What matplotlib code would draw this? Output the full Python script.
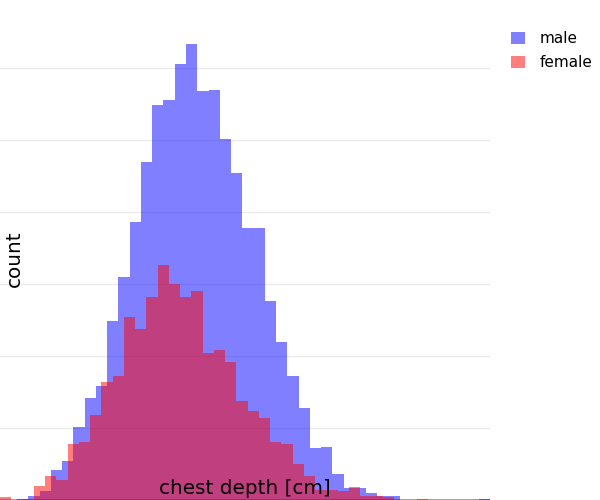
import numpy as np
import matplotlib
matplotlib.use("Agg")
import matplotlib.pyplot as plt

# histogram counts per bin (bin width 0.5 cm)
bin_width = 0.5
male_start = 17.26
female_start = 17.0
male_counts = [0, 1, 3, 6, 21, 27, 51, 71, 79, 124,
               155, 193, 235, 274, 278, 303, 317, 284, 285, 251,
               227, 189, 189, 138, 110, 86, 64, 36, 37, 18,
               8, 8, 5, 3, 3, 0, 0, 0, 0, 0,
               0, 0, 1]
female_counts = [2, 0, 1, 10, 17, 14, 39, 40, 59, 82,
                 86, 127, 119, 141, 163, 150, 141, 145, 102, 104,
                 96, 69, 62, 57, 40, 39, 25, 17, 7, 7,
                 6, 9, 3, 3, 2, 0, 0, 1]
grid_step = 50

male_x = male_start + bin_width * np.arange(len(male_counts))
female_x = female_start + bin_width * np.arange(len(female_counts))

fig = plt.figure(figsize=(6, 5), dpi=100)
ax = fig.add_axes([0, 0, 490 / 600, 1])

ax.bar(male_x, male_counts, width=bin_width, align="edge", color="blue",
       alpha=0.5, linewidth=0, label="male")
ax.bar(female_x, female_counts, width=bin_width, align="edge", color="red",
       alpha=0.5, linewidth=0, label="female")

ax.set_xlim(female_start, male_start + bin_width * len(male_counts))
ax.set_ylim(0, 500 / 72 * grid_step)
ax.set_yticks(np.arange(grid_step, 350, grid_step))
ax.set_xticks([])
ax.yaxis.grid(True, color="#ebebeb", lw=1)
ax.set_axisbelow(True)
ax.axhline(0, color="#9a9a9a", lw=2, zorder=0.5)
ax.tick_params(left=False, labelleft=False)
for s in ax.spines.values():
    s.set_visible(False)

fig.text(245 / 600, 1 - 488 / 500, "chest depth [cm]", ha="center", va="center",
         fontsize=14.4, color="black")
fig.text(14 / 600, 1 - 259 / 500, "count", ha="center", va="center",
         rotation=90, fontsize=14.4, color="black")

fig.legend(loc="upper left", bbox_to_anchor=(505 / 600, 1 - 25 / 500),
           frameon=False, fontsize=11, handlelength=0.9, handleheight=0.9,
           handletextpad=0.95, labelspacing=0.6, borderaxespad=0)

fig.savefig("out.png", dpi=100)
